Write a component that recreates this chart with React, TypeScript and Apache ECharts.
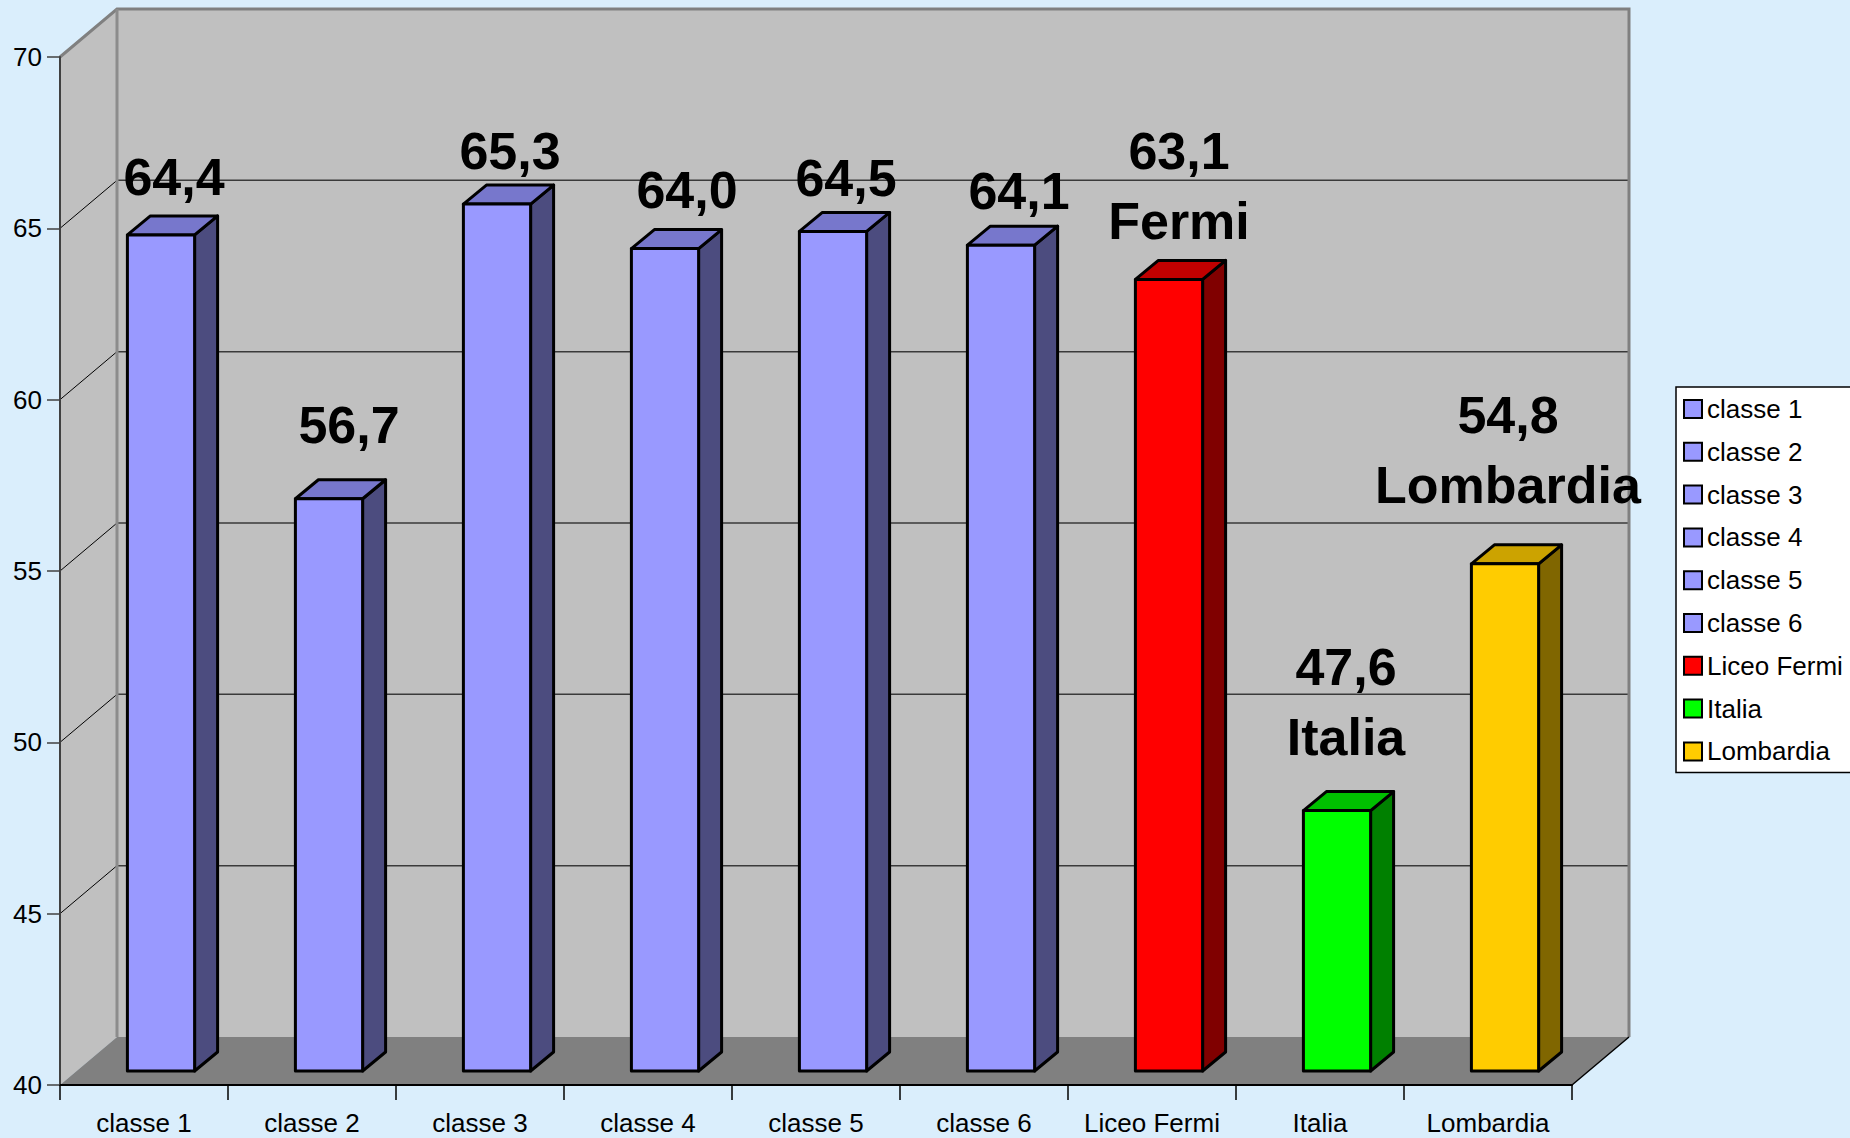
import React, { useEffect, useRef } from "react";
import * as echarts from "echarts";

// ---- data ----
const categories = [
  "classe 1",
  "classe 2",
  "classe 3",
  "classe 4",
  "classe 5",
  "classe 6",
  "Liceo Fermi",
  "Italia",
  "Lombardia",
];
const values = [64.4, 56.7, 65.3, 64.0, 64.5, 64.1, 63.1, 47.6, 54.8];
const labelSuffix = ["", "", "", "", "", "", "Fermi", "Italia", "Lombardia"];
const yTicks = [40, 45, 50, 55, 60, 65, 70];

// ---- styles / layout ----
const frontColors = [
  "#9999ff", "#9999ff", "#9999ff", "#9999ff", "#9999ff", "#9999ff",
  "#ff0000", "#00ff00", "#ffcc00",
];
const topColors = [
  "#7777cc", "#7777cc", "#7777cc", "#7777cc", "#7777cc", "#7777cc",
  "#c00000", "#00c000", "#cca300",
];
const sideColors = [
  "#4c4c7f", "#4c4c7f", "#4c4c7f", "#4c4c7f", "#4c4c7f", "#4c4c7f",
  "#800000", "#008000", "#806600",
];
// distance (px) between the last label baseline and the bar's top back edge
const labelGap = [18, 34, 13, 19, 13, 14, 18, 34, 39];
// horizontal nudge (px) of each label
const labelShift = [2, 9, 2, 11, 2, 7, -1, -2, -8];

const FONT = "'Liberation Sans', Arial, sans-serif";
const DX = 57; // wall depth
const DY = 48;
const FX = 17; // bar front offset inside depth
const FY = 14;
const BX = 23; // bar depth
const BY = 19;
const BAR_RATIO = 0.4;
const BASELINE_ADJ = 14;

const yMin = yTicks[0];
const yMax = yTicks[yTicks.length - 1];
const yInterval = yTicks[1] - yTicks[0];

function wallsRender(params: any, api: any) {
  const bw = api.size([1, 0])[0];
  const n = categories.length;
  const left = api.coord([0, yMin])[0] - bw / 2;
  const right = api.coord([n - 1, yMin])[0] + bw / 2;
  const yBot = api.coord([0, yMin])[1];
  const yTop = api.coord([0, yMax])[1];
  const children: any[] = [];
  children.push({
    type: "polygon",
    shape: { points: [[left, yBot], [left, yTop], [left + DX, yTop - DY], [left + DX, yBot - DY]] },
    style: { fill: "#c0c0c0" },
  });
  children.push({
    type: "rect",
    shape: { x: left + DX, y: yTop - DY, width: right - left, height: yBot - yTop },
    style: { fill: "#c0c0c0" },
  });
  children.push({
    type: "polygon",
    shape: { points: [[left, yBot], [left + DX, yBot - DY], [right + DX, yBot - DY], [right, yBot]] },
    style: { fill: "#808080" },
  });
  for (let k = 1; k < yTicks.length - 1; k++) {
    const y = api.coord([0, yTicks[k]])[1];
    children.push({
      type: "line",
      shape: { x1: left + DX, y1: y - DY, x2: right + DX, y2: y - DY },
      style: { stroke: "#3a3a3a", lineWidth: 1.5 },
    });
    children.push({
      type: "line",
      shape: { x1: left, y1: y, x2: left + DX, y2: y - DY },
      style: { stroke: "#000", lineWidth: 1 },
    });
  }
  children.push({
    type: "polyline",
    shape: { points: [[left, yTop], [left + DX, yTop - DY], [right + DX, yTop - DY], [right + DX, yBot - DY]] },
    style: { stroke: "#808080", lineWidth: 3, fill: null },
  });
  children.push({
    type: "line",
    shape: { x1: left + DX, y1: yTop - DY, x2: left + DX, y2: yBot - DY },
    style: { stroke: "#8c8c8c", lineWidth: 3 },
  });
  children.push({
    type: "line",
    shape: { x1: right, y1: yBot, x2: right + DX, y2: yBot - DY },
    style: { stroke: "#000", lineWidth: 1.5 },
  });
  return { type: "group", children };
}

function makeBarRender(i: number) {
  return (params: any, api: any) => {
    const idx = api.value(0);
    const v = api.value(1);
    const bw = api.size([1, 0])[0] * BAR_RATIO;
    const top = api.coord([idx, v]);
    const base = api.coord([idx, yMin]);
    const x0 = top[0] - bw / 2 + FX;
    const x1 = x0 + bw;
    const yt = top[1] - FY;
    const yb = base[1] - FY;
    const stroke = { stroke: "#000", lineWidth: 3, lineJoin: "round" };
    const text =
      v.toFixed(1).replace(".", ",") + (labelSuffix[i] ? "\n" + labelSuffix[i] : "");
    return {
      type: "group",
      children: [
        {
          type: "polygon",
          shape: { points: [[x1, yt], [x1 + BX, yt - BY], [x1 + BX, yb - BY], [x1, yb]] },
          style: { fill: sideColors[i], ...stroke },
        },
        {
          type: "polygon",
          shape: { points: [[x0, yt], [x1, yt], [x1 + BX, yt - BY], [x0 + BX, yt - BY]] },
          style: { fill: topColors[i], ...stroke },
        },
        {
          type: "rect",
          shape: { x: x0, y: yt, width: bw, height: yb - yt },
          style: { fill: frontColors[i], ...stroke },
        },
        {
          type: "text",
          x: (x0 + x1) / 2 + 11 + labelShift[i],
          y: yt - BY - labelGap[i] + BASELINE_ADJ,
          style: {
            text,
            fill: "#000",
            fontSize: 52,
            fontWeight: "bold",
            fontFamily: FONT,
            lineHeight: 70,
            align: "center",
            textAlign: "center",
            verticalAlign: "bottom",
            textVerticalAlign: "bottom",
          },
        },
      ],
    };
  };
}

export default function App() {
  const ref = useRef<HTMLDivElement>(null);
  useEffect(() => {
    if (!ref.current) return;
    const chart = echarts.init(ref.current, null, { renderer: "svg" });
    const series: any[] = [
      {
        type: "custom",
        name: "__walls",
        silent: true,
        z: 1,
        data: [[0, yMin]],
        renderItem: wallsRender,
      },
    ];
    categories.forEach((c, i) => {
      series.push({
        type: "custom",
        name: c,
        z: 2,
        itemStyle: { color: frontColors[i] },
        data: [[i, values[i]]],
        renderItem: makeBarRender(i),
      });
    });
    chart.setOption({
      animation: false,
      backgroundColor: "#daeefc",
      textStyle: { fontFamily: FONT },
      grid: { left: 60, top: 57, width: 1512, height: 1028 },
      legend: {
        orient: "vertical",
        left: 1676,
        top: 387,
        selectedMode: false,
        backgroundColor: "#ffffff",
        borderColor: "#000",
        borderWidth: 1.5,
        borderRadius: 0,
        padding: [9, 40, 8, 7],
        itemGap: 16.8,
        itemWidth: 18,
        itemHeight: 18,
        icon: "rect",
        textStyle: { fontSize: 26, fontFamily: FONT, color: "#000", lineHeight: 26 },
        data: categories.map((c, i) => ({
          name: c,
          itemStyle: { color: frontColors[i], borderColor: "#000", borderWidth: 2 },
        })),
      },
      xAxis: {
        type: "category",
        data: categories,
        z: 10,
        boundaryGap: true,
        axisLine: { show: true, lineStyle: { color: "#000", width: 2 } },
        axisTick: { show: true, interval: 0, length: 15, lineStyle: { color: "#000", width: 1.5 } },
        axisLabel: { interval: 0, fontSize: 26, color: "#000", margin: 25, fontFamily: FONT },
        splitLine: { show: false },
      },
      yAxis: {
        type: "value",
        min: yMin,
        max: yMax,
        interval: yInterval,
        z: 10,
        axisLine: { show: true, lineStyle: { color: "#404040", width: 2 } },
        axisTick: { show: true, length: 13, lineStyle: { color: "#404040", width: 1.5 } },
        axisLabel: { fontSize: 26, color: "#000", margin: 18, fontFamily: FONT },
        splitLine: { show: false },
      },
      series,
    });
    return () => chart.dispose();
  }, []);
  return (
    <div
      ref={ref}
      style={{ position: "absolute", left: 0, top: 0, width: 1850, height: 1138 }}
    />
  );
}
